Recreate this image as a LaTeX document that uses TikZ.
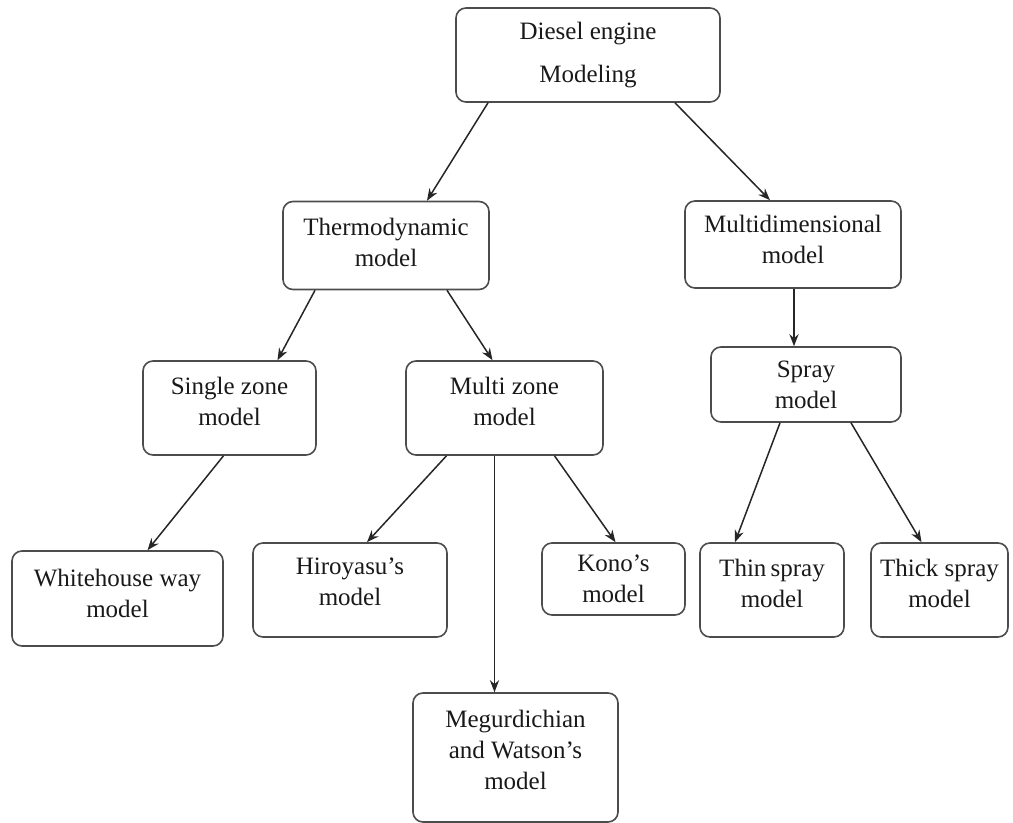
\documentclass[tikz,border=0pt]{standalone}
\usepackage{fontspec}
\setmainfont{Liberation Serif}
\usetikzlibrary{arrows.meta,positioning}

\begin{document}
\begin{tikzpicture}[>={Stealth[length=6pt,width=4.6pt]}, on grid,
  box/.style={draw=black!70, line width=0.8pt, rounded corners=5pt, align=center, inner sep=0pt,
    font=\fontsize{12.5pt}{15.5pt}\selectfont, text=black!90},
  every edge/.style={draw=black!85, line width=0.75pt}]
\useasboundingbox (0,0) rectangle (506.5pt,-411.5pt);
\node[box, minimum width=132pt, minimum height=47pt](diesel) at (294pt,-27.5pt){Diesel engine\\[6pt]Modeling};
\node[box, minimum width=103pt, minimum height=44pt, text depth=3.5pt](thermo) [below left=95.25pt and 101pt of diesel]{Thermodynamic\\model};
\node[box, minimum width=108pt, minimum height=43.5pt, text depth=5.5pt](multidim) [below right=94.75pt and 102.5pt of diesel]{Multidimensional\\model};
\node[box, minimum width=86.5pt, minimum height=47pt, text depth=6.5pt](single) [below left=81.25pt and 78.25pt of thermo]{Single zone\\model};
\node[box, minimum width=98.5pt, minimum height=47pt, text depth=6.5pt](multi) [below right=81.25pt and 59.25pt of thermo]{Multi zone\\model};
\node[box, minimum width=95pt, minimum height=37.5pt](spray) [below right=70pt and 6.5pt of multidim]{Spray\\model};
\node[box, minimum width=105.5pt, minimum height=47.5pt, text depth=5pt](white) [below left=95.25pt and 56pt of single]{Whitehouse way\\model};
\node[box, minimum width=97pt, minimum height=47pt, text depth=8.5pt](hiro) [below left=91pt and 77.25pt of multi]{Hiroyasu’s\\model};
\node[box, minimum width=71.5pt, minimum height=36pt](kono) [below right=85.5pt and 54.5pt of multi]{Kono’s\\model};
\node[box, minimum width=102.5pt, minimum height=64.5pt, text depth=7.5pt](megur) [below right=174.75pt and 5.5pt of multi]{Megurdichian\\and Watson’s\\model};
\node[box, minimum width=72pt, minimum height=47pt, text depth=6.5pt](thin) [below left=102.75pt and 17pt of spray]{Thin\,spray\\model};
\node[box, minimum width=68.5pt, minimum height=47pt, text depth=6.5pt](thick) [below right=102.75pt and 66.75pt of spray]{Thick spray\\model};
\path[->]
([xshift=-50pt]diesel.south) edge ([xshift=20.5pt]thermo.north)
([xshift=43.5pt]diesel.south) edge ([xshift=-11.5pt]multidim.north)
([xshift=-35.5pt]thermo.south) edge ([xshift=24pt]single.north)
([xshift=30.5pt]thermo.south) edge ([xshift=-6pt]multi.north)
([xshift=0.5pt]multidim.south) edge ([xshift=-6pt]spray.north)
([xshift=-3pt]single.south) edge ([xshift=15pt]white.north)
([xshift=-29pt]multi.south) edge ([xshift=8.5pt]hiro.north)
([xshift=-5pt]multi.south) edge ([xshift=-10.5pt]megur.north)
([xshift=25pt]multi.south) edge ([xshift=1pt]kono.north)
([xshift=-13pt]spray.south) edge ([xshift=-18.5pt]thin.north)
([xshift=22.5pt]spray.south) edge ([xshift=-9pt]thick.north);
\end{tikzpicture}
\end{document}
